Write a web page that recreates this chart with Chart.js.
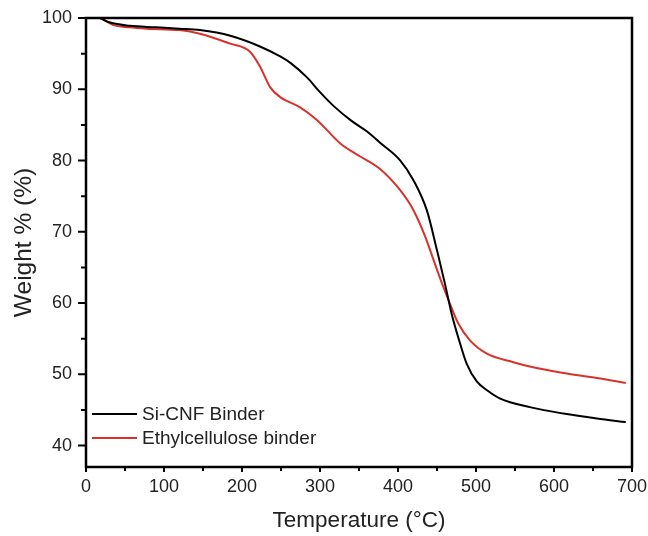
<!DOCTYPE html>
<html>
<head>
<meta charset="utf-8">
<script src="https://cdn.jsdelivr.net/npm/chart.js@4"></script>
<style>
html,body{margin:0;padding:0;background:#fff;}
#wrap{width:648px;height:536px;position:relative;}
</style>
</head>
<body>
<div id="wrap"><canvas id="c" width="648" height="536"></canvas></div>
<script>
const seriesNames = ['Si-CNF Binder', 'Ethylcellulose binder'];
const seriesColors = ['#000000', '#d8322a'];

const siTemp = [18, 30, 56, 90, 120, 146, 185, 223, 249, 262, 283, 300, 318, 340, 360, 377, 403, 420, 437, 450, 460, 469, 478, 488, 501, 515, 531, 569, 612, 655, 692];
const siWeight = [100, 99.4, 98.9, 98.7, 98.5, 98.3, 97.5, 96.0, 94.6, 93.7, 91.7, 89.6, 87.6, 85.6, 84.1, 82.5, 80.0, 77.2, 73.0, 67.4, 62.8, 58.4, 54.9, 51.5, 49.0, 47.7, 46.6, 45.4, 44.5, 43.8, 43.3];

const ecTemp = [18, 25, 35, 55, 78, 120, 146, 185, 210, 223, 236, 249, 274, 296, 326, 351, 377, 403, 420, 435, 447, 458, 467, 477, 492, 514, 548, 569, 612, 655, 692];
const ecWeight = [100, 99.6, 99.0, 98.7, 98.5, 98.3, 97.8, 96.4, 95.3, 93.2, 90.3, 88.9, 87.5, 85.7, 82.4, 80.6, 78.8, 75.8, 73.0, 69.3, 65.6, 62.3, 59.8, 57.2, 54.8, 52.9, 51.7, 51.1, 50.2, 49.5, 48.8];

const xTicks = [0, 100, 200, 300, 400, 500, 600, 700];
const xMinorTicks = [50, 150, 250, 350, 450, 550, 650];
const yTicks = [40, 50, 60, 70, 80, 90, 100];
const yMinorTicks = [45, 55, 65, 75, 85, 95];

const FONT = "'Liberation Sans', Arial, sans-serif";
const TEXT = '#222222';

const toPts = (xs, ys) => xs.map((x, i) => ({x: x, y: ys[i]}));

const framePlugin = {
  id: 'frame',
  afterDraw(chart) {
    const ctx = chart.ctx;
    const a = chart.chartArea;
    const xs = chart.scales.x, ys = chart.scales.y;
    ctx.save();
    ctx.strokeStyle = '#000';
    ctx.lineWidth = 2.5;
    ctx.strokeRect(a.left, a.top, a.right - a.left, a.bottom - a.top);
    ctx.lineWidth = 2;
    ctx.beginPath();
    xTicks.forEach(v => { const p = xs.getPixelForValue(v); ctx.moveTo(p, a.bottom); ctx.lineTo(p, a.bottom + 5); });
    xMinorTicks.forEach(v => { const p = xs.getPixelForValue(v); ctx.moveTo(p, a.bottom); ctx.lineTo(p, a.bottom + 4); });
    yTicks.forEach(v => { const p = ys.getPixelForValue(v); ctx.moveTo(a.left, p); ctx.lineTo(a.left - 8, p); });
    yMinorTicks.forEach(v => { const p = ys.getPixelForValue(v); ctx.moveTo(a.left, p); ctx.lineTo(a.left - 5, p); });
    ctx.stroke();
    // legend
    ctx.font = '19px ' + FONT;
    ctx.textBaseline = 'middle';
    ctx.textAlign = 'left';
    const rows = [414, 438];
    chart.data.datasets.forEach((ds, i) => {
      const y = rows[i];
      ctx.strokeStyle = ds.borderColor;
      ctx.lineWidth = 2;
      ctx.beginPath();
      ctx.moveTo(92, y); ctx.lineTo(137, y);
      ctx.stroke();
      ctx.fillStyle = TEXT;
      ctx.fillText(ds.label, 142, y + 1);
    });
    ctx.restore();
  }
};

new Chart(document.getElementById('c'), {
  type: 'line',
  data: {
    datasets: [
      {label: seriesNames[0], data: toPts(siTemp, siWeight), borderColor: seriesColors[0], borderWidth: 2, pointRadius: 0, cubicInterpolationMode: 'monotone', fill: false},
      {label: seriesNames[1], data: toPts(ecTemp, ecWeight), borderColor: seriesColors[1], borderWidth: 2, pointRadius: 0, cubicInterpolationMode: 'monotone', fill: false}
    ]
  },
  options: {
    responsive: false,
    animation: false,
    events: [],
    layout: {padding: {top: 18, right: 16, left: 0, bottom: 0}},
    plugins: {legend: {display: false}, tooltip: {enabled: false}},
    scales: {
      x: {
        type: 'linear', min: 0, max: 700,
        grid: {display: false, drawTicks: false},
        border: {display: false},
        afterBuildTicks: s => { s.ticks = xTicks.map(v => ({value: v})); },
        afterFit: s => { s.height = 69; s.paddingRight = 0; s.paddingLeft = 0; },
        ticks: {padding: 9, color: TEXT, font: {family: FONT, size: 18}, maxRotation: 0, autoSkip: false},
        title: {display: true, text: 'Temperature (°C)', color: TEXT, font: {family: FONT, size: 22.5}, padding: {top: 0, bottom: 1.5}}
      },
      y: {
        type: 'linear', min: 37, max: 100,
        grid: {display: false, drawTicks: false},
        border: {display: false},
        afterBuildTicks: s => { s.ticks = yTicks.map(v => ({value: v})); },
        afterFit: s => { s.width = 86; s.paddingTop = 0; s.paddingBottom = 0; },
        ticks: {padding: 14, color: TEXT, font: {family: FONT, size: 18}, autoSkip: false},
        title: {display: true, text: 'Weight % (%)', color: TEXT, font: {family: FONT, size: 24.5}, padding: {top: 10, bottom: 0}}
      }
    }
  },
  plugins: [framePlugin]
});
</script>
</body>
</html>
